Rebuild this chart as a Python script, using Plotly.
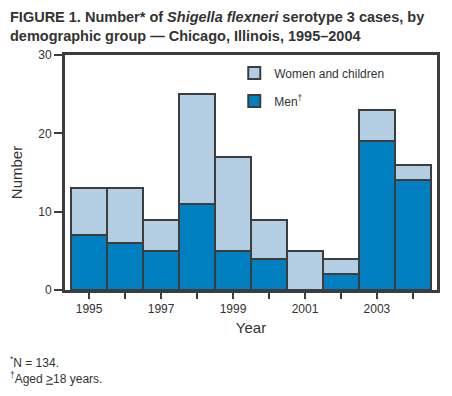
import plotly.graph_objects as go

years = [1995, 1996, 1997, 1998, 1999, 2000, 2001, 2002, 2003, 2004]
men = [7, 6, 5, 11, 5, 4, 0, 2, 19, 14]
women_children = [6, 7, 4, 14, 12, 5, 5, 2, 4, 2]
tick_labels = ["1995", "", "1997", "", "1999", "", "2001", "", "2003", ""]
y_ticks = [0, 10, 20, 30]

DARK = "#3d3d3d"
FONT = "Arial, Liberation Sans, Helvetica, sans-serif"

fig = go.Figure()
fig.add_trace(go.Bar(
    x=years, y=men, name="Men<sup>†</sup>",
    marker=dict(color="#0080C0", line=dict(color=DARK, width=2)),
    legendgroup="m", legendrank=2,
))
fig.add_trace(go.Bar(
    x=years, y=women_children, name="Women and children",
    marker=dict(color="#B3CDE3", line=dict(color=DARK, width=2)),
    legendgroup="w", legendrank=1,
))

fig.update_layout(
    width=452, height=396,
    margin=dict(l=65, r=15, t=55, b=106),
    barmode="stack", bargap=0,
    paper_bgcolor="white", plot_bgcolor="white",
    font=dict(family=FONT, size=12, color="#333333"),
    showlegend=True,
    legend=dict(
        x=0.455, y=0.985, xanchor="left", yanchor="top",
        bgcolor="rgba(0,0,0,0)", font=dict(size=12, color="#333333"),
        traceorder="grouped", tracegroupgap=9,
    ),
    xaxis=dict(
        range=[1994.33, 2004.67], tickvals=years, ticktext=tick_labels,
        ticks="outside", ticklen=6, tickwidth=2, tickcolor=DARK,
        showline=True, linewidth=3, linecolor=DARK, mirror=True,
        showgrid=False, zeroline=False,
        tickfont=dict(size=12, color="#333333"),
        title=dict(text="Year", font=dict(size=15, color="#333333"), standoff=8),
    ),
    yaxis=dict(
        range=[0, 30], tickvals=y_ticks,
        ticks="outside", ticklen=8, tickwidth=2, tickcolor=DARK,
        showline=True, linewidth=3, linecolor=DARK, mirror=True,
        showgrid=False, zeroline=False,
        tickfont=dict(size=12, color="#333333"),
        title=dict(text="Number", font=dict(size=15, color="#333333"), standoff=12),
    ),
)

fig.add_annotation(
    text="<b>FIGURE 1. Number* of <i>Shigella flexneri</i> serotype 3 cases, by<br>demographic group — Chicago, Illinois, 1995–2004</b>",
    xref="paper", yref="paper", x=-57/372, y=1 + 48/235,
    xanchor="left", yanchor="top", align="left", showarrow=False,
    font=dict(size=14.5, color="#333333", family=FONT),
)
fig.add_annotation(
    text="<sup>*</sup>N = 134.<br><sup>†</sup>Aged <u>></u>18 years.",
    xref="paper", yref="paper", x=-57/372, y=-62/235,
    xanchor="left", yanchor="top", align="left", showarrow=False,
    font=dict(size=12, color="#333333", family=FONT),
)

fig.write_html("out.html", config={"displayModeBar": False},
               post_script="document.body.style.margin='0';")
